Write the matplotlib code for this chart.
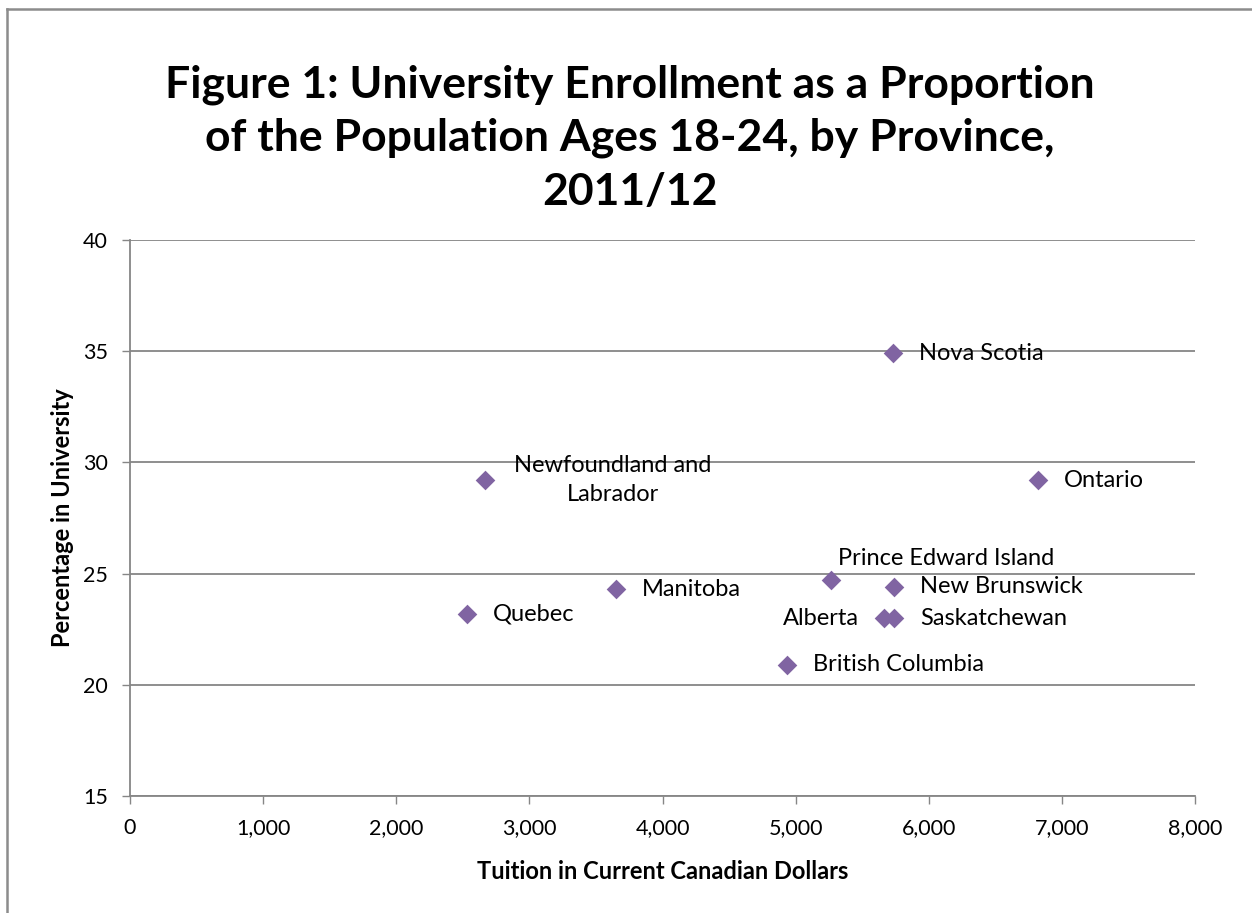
import matplotlib.pyplot as plt
from matplotlib.lines import Line2D

plt.rcParams['font.family'] = ['Lato', 'DejaVu Sans']

provinces = ['Nova Scotia', 'Newfoundland and\nLabrador', 'Ontario',
             'Prince Edward Island', 'New Brunswick', 'Manitoba', 'Quebec',
             'Alberta', 'Saskatchewan', 'British Columbia']
tuition = [5731, 2667, 6822, 5267, 5740, 3651, 2532, 5665, 5740, 4936]
pct_univ = [34.9, 29.2, 29.2, 24.7, 24.4, 24.3, 23.2, 23.0, 23.0, 20.9]

# label placement (offset in points, horizontal alignment)
lab_pos = {
    'Nova Scotia': ((18.5, 0), 'left'),
    'Newfoundland and\nLabrador': ((92, 0), 'center'),
    'Ontario': ((18.5, 0), 'left'),
    'Prince Edward Island': ((83, 16), 'center'),
    'New Brunswick': ((18.5, 0), 'left'),
    'Manitoba': ((18.5, 0), 'left'),
    'Quebec': ((18.5, 0), 'left'),
    'Alberta': ((-18, 0), 'right'),
    'Saskatchewan': ((18.5, 0), 'left'),
    'British Columbia': ((18.5, 0), 'left'),
}

purple = '#8064A2'
gray = '#868686'

fig = plt.figure(figsize=(12.52, 9.13), dpi=100)
ax = fig.add_axes([130 / 1252, 1 - 796 / 913, 1065 / 1252, 556 / 913])

ax.scatter(tuition, pct_univ, marker='D', s=100, color=purple, zorder=3,
           linewidths=0)

for name, x, y in zip(provinces, tuition, pct_univ):
    off, ha = lab_pos[name]
    ax.annotate(name, (x, y), xytext=off, textcoords='offset points',
                ha=ha, va='center', fontsize=17, linespacing=1.45,
                color='black', zorder=4)

ax.set_xlim(0, 8000)
ax.set_ylim(15, 40)
ax.set_xticks(range(0, 8001, 1000))
ax.set_yticks(range(15, 41, 5))
ax.xaxis.set_major_formatter(plt.FuncFormatter(lambda v, p: f'{int(v):,}'))
ax.grid(axis='y', color=gray, linewidth=1.3)
ax.set_axisbelow(True)

for s in ['top', 'right']:
    ax.spines[s].set_visible(False)
for s in ['left', 'bottom']:
    ax.spines[s].set_color(gray)
    ax.spines[s].set_linewidth(1.3)

ax.tick_params(axis='both', colors=gray, labelcolor='black', labelsize=15.5,
               length=6, width=1.0, direction='out', pad=10)

ax.set_xlabel('Tuition in Current Canadian Dollars', fontsize=17,
              fontweight='bold', labelpad=16)
ax.set_ylabel('Percentage in University', fontsize=17,
              fontweight='bold', labelpad=6)

fig.text(0.503, 1 - 138 / 913,
         'Figure 1: University Enrollment as a Proportion\n'
         'of the Population Ages 18-24, by Province,\n2011/12',
         ha='center', va='center', fontsize=32, fontweight='bold',
         linespacing=1.4)

# outer chart frame
fig.add_artist(Line2D([7 / 1252, 7 / 1252], [0, 1 - 9 / 913],
                      transform=fig.transFigure, color='#8c8c8c', lw=1.8))
fig.add_artist(Line2D([7 / 1252, 1], [1 - 9 / 913, 1 - 9 / 913],
                      transform=fig.transFigure, color='#8c8c8c', lw=1.8))

fig.savefig('out.png', dpi=100)
